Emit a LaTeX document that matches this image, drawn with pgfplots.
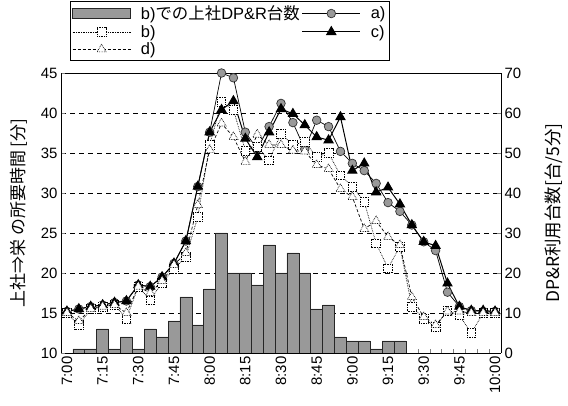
\documentclass[border=0pt]{standalone}
\usepackage{fontspec}
\setmainfont{Liberation Sans}
\newfontfamily\jp{Noto Sans CJK JP}
\usepackage{pgfplots}
\pgfplotsset{compat=1.18}
\usepackage{pgfplotstable}

\pgfplotstableread{
i a b c d
0 15.2 15.0 15.2 15.0
1 15.5 13.5 15.5 14.0
2 15.8 15.5 15.8 15.5
3 16.0 15.8 16.0 15.8
4 16.3 16.0 16.3 16.0
5 16.5 14.3 16.5 15.0
6 18.5 18.3 18.5 18.3
7 18.3 16.6 18.3 17.5
8 19.5 18.8 19.5 19.0
9 21.2 20.5 21.2 21.0
10 24.0 22.0 24.0 22.5
11 30.8 27.0 30.8 28.5
12 37.6 36.0 37.6 35.4
13 45.0 41.4 40.4 38.7
14 44.4 40.4 41.5 37.0
15 37.6 35.3 36.8 33.9
16 35.5 35.8 34.5 37.3
17 38.3 34.1 37.6 36.0
18 41.2 37.4 40.5 36.0
19 38.8 36.0 39.9 35.3
20 35.5 36.4 38.5 35.2
21 39.1 34.5 37.0 33.5
22 38.3 35.0 36.6 33.0
23 35.2 32.2 39.5 30.5
24 33.7 30.8 32.8 29.5
25 32.8 28.9 33.7 25.5
26 31.2 23.7 30.1 26.5
27 28.8 20.6 30.7 24.5
28 27.7 23.3 28.6 23.5
29 26.0 15.8 26.0 17.0
30 23.9 14.3 23.9 14.5
31 22.8 13.3 23.4 13.5
32 17.6 15.3 18.7 15.2
33 15.8 14.7 15.8 15.2
34 15.3 12.5 15.3 15.0
35 15.2 15.0 15.3 15.0
36 15.2 15.0 15.2 15.0
}\lines

\pgfplotstableread{
k n
1 1
2 1
3 6
4 1
5 4
6 1
7 6
8 4
9 8
10 14
11 7
12 16
13 30
14 20
15 20
16 17
17 27
18 20
19 25
20 20
21 11
22 12
23 4
24 3
25 3
26 1
27 3
28 3
}\bars

\begin{document}
\begin{tikzpicture}
\begin{axis}[
  name=bax,
  scale only axis, width=440bp, height=280bp,
  xmin=-0.5, xmax=36.5, ymin=0, ymax=70,
  axis y line*=right,
  ytick={0,10,...,70},
  xtick={0,3,...,36},
  xticklabels={7:00,7:15,7:30,7:45,8:00,8:15,8:30,8:45,9:00,9:15,9:30,9:45,10:00},
  xticklabel style={rotate=90, anchor=east},
  minor xtick={-0.5,0.5,...,36.5},
  major x tick style={draw=none},
  xtick pos=lower,
  tick align=inside,
  major tick length=4bp, minor tick length=4bp,
  ymajorgrids, grid style={black, dash pattern=on 5bp off 4bp, line width=0.6bp},
  tick label style={font=\fontsize{15}{17}\selectfont},
  /pgf/number format/assume math mode=true,
  axis line style={line width=0.8bp},
  ylabel={\jp DP\&R利用台数[台/5分]},
  every axis y label/.style={at={(axis description cs:1.12,0.5)}, rotate=90, anchor=center, font=\fontsize{17.5}{19}\selectfont},
]
\addplot[ybar, bar width=1, fill=black!40, draw=black!85, line width=0.6bp] table[x=k,y=n]{\bars};
\end{axis}
\begin{axis}[
  scale only axis, width=440bp, height=280bp,
  xmin=-0.5, xmax=36.5, ymin=10, ymax=45,
  axis x line=none, axis y line*=left,
  ytick={10,15,...,45},
  tick align=inside, major tick length=4bp,
  tick label style={font=\fontsize{15}{17}\selectfont},
  /pgf/number format/assume math mode=true,
  axis line style={line width=0.8bp},
  ylabel={\jp 上社⇒栄\ の所要時間 [分]},
  every axis y label/.style={at={(axis description cs:-0.095,0.5)}, rotate=90, anchor=center, font=\fontsize{17}{19}\selectfont},
  legend columns=2,
  legend cell align=left,
  legend style={at={(axis description cs:0.02,1.045)}, anchor=south west, draw=black, line width=0.8bp,
    font=\fontsize{16.5}{19}\selectfont, inner sep=2bp, row sep=0bp,
    /tikz/every odd column/.append style={column sep=8bp}},
  legend image code/.code={\draw[mark repeat=2,mark phase=2,#1] plot coordinates {(0bp,0bp) (29bp,0bp) (58bp,0bp)};},
]
\addlegendimage{legend image code/.code={\draw[fill=black!40,draw=black!85,line width=0.6bp] (0bp,-5bp) rectangle (58bp,5bp);}}
\addlegendentry{b){\jp での上社}DP\&R{\jp 台数}}
\addplot[black, line width=0.7bp, mark=*, mark size=4.3bp, mark options={fill=black!40, draw=black!80, solid}] table[x=i,y=a]{\lines};
\addlegendentry{a)}
\addplot[black, line width=0.7bp, densely dotted, mark=square*, mark size=4.3bp, mark options={fill=white, draw=black, densely dotted}] table[x=i,y=b]{\lines};
\addlegendentry{b)}
\addplot[black, line width=1bp, mark=triangle*, mark size=5.2bp, mark options={fill=black, solid}] table[x=i,y=c]{\lines};
\addlegendentry{c)}
\addplot[black, line width=0.7bp, dash pattern=on 3bp off 2bp, mark=triangle*, mark size=5.2bp, mark options={fill=white, draw=black, densely dotted}] table[x=i,y=d]{\lines};
\addlegendentry{d)}
\end{axis}
\path ([shift={(-61bp,-53bp)}]bax.south west) rectangle ([shift={(67bp,73bp)}]bax.north east);
\end{tikzpicture}
\end{document}
